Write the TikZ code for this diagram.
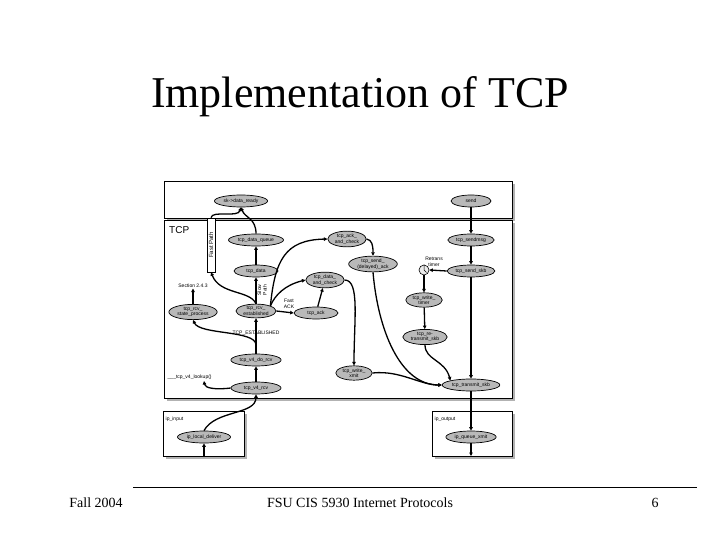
\documentclass[tikz,border=0pt]{standalone}
\usepackage{fontspec}
\setmainfont{Liberation Serif}
\newfontfamily\nodefont{Liberation Sans}
\usetikzlibrary{arrows.meta,shapes.geometric}
\begin{document}
\begin{tikzpicture}[x=1pt,y=-1pt,
  fn/.style={ellipse,draw=black,fill=gray!55,line width=0.7pt,inner xsep=1.5pt,inner ysep=0.5pt,minimum height=12pt,font=\nodefont\fontsize{5}{5.5}\selectfont,align=center},
  lbl/.style={font=\nodefont\fontsize{5}{5.5}\selectfont,inner sep=0.5pt,align=center},
  ar/.style={line width=1.3pt,-{Triangle[length=3.5pt,width=3.5pt]}},
  frame/.style={draw=black,line width=0.6pt,fill=white}]
\useasboundingbox (0,0) rectangle (720,540);
% title
\node (title) at (360,97) {\fontsize{44}{48}\selectfont Implementation of TCP};
% boxes
\foreach \a/\b/\c/\d in {164/181/512/218, 164/220/512/398, 163/411/244/456, 432/411/512/456}{
  \fill[gray!60] (\a+3,\b+3) rectangle (\c+3,\d+3);
  \draw[frame] (\a,\b) rectangle (\c,\d);}
\node[anchor=north west,font=\nodefont\fontsize{10}{11}\selectfont,inner sep=1pt] (tcplbl) at (168,225) {TCP};
\node[lbl,anchor=west] (ipin) at (165,419) {ip\_input};
\node[lbl,anchor=west] (ipout) at (434,419) {ip\_output};
% fast path
\node[draw,fill=white,line width=0.6pt,rotate=90,minimum width=54pt,minimum height=8pt,inner sep=0.5pt,font=\nodefont\fontsize{6}{6}\selectfont] (fast) at (211,245) {Fast Path};
% nodes
\node[fn] (ready) at (241,201) {sk->data\_ready};
\node[fn,minimum width=40pt] (send) at (471,201) {send};
\node[fn] (dq) at (256,240) {tcp\_data\_queue};
\node[fn] (ackc) at (347,239) {tcp\_ack\_\\and\_check};
\node[fn] (sendmsg) at (471,240) {tcp\_sendmsg};
\node[fn] (dack) at (373,264) {tcp\_send\_\\(delayed)\_ack};
\node[fn,minimum width=44pt] (data) at (256,271) {tcp\_data};
\node[fn] (datac) at (325,280) {tcp\_data\_\\and\_check};
\node[circle,draw,fill=gray!15,line width=0.6pt,minimum size=10pt,inner sep=0pt] (timer) at (424,270) {};
\draw[line width=0.5pt] (timer.center) -- (timer.north) (timer.center) -- ++(2.5,2.5);
\node[lbl] (rt) at (434,262) {Retrans\\timer};
\node[fn] (sskb) at (471,271) {tcp\_send\_skb};
\node[lbl] (sec) at (193,286) {Section 2.4.3};
\node[fn] (sp) at (193,312) {tcp\_rcv\_\\state\_process};
\node[fn] (est) at (256,311) {tcp\_rcv\_\\established};
\node[lbl,rotate=90] (slow) at (262,290) {Slow\\Path};
\node[lbl] (fack) at (289,304) {Fast\\ACK};
\node[fn,minimum width=44pt] (ack) at (316,313) {tcp\_ack};
\node[fn] (wt) at (424,300) {tcp\_write\_\\timer};
\node[lbl] (estab) at (256,333) {TCP\_ESTABLISHED};
\node[fn] (retr) at (425,337) {tcp\_re-\\transmit\_skb};
\node[fn] (dorcv) at (256,360) {tcp\_v4\_do\_rcv};
\node[fn] (wx) at (354,373) {tcp\_write\_\\xmit};
\node[lbl,anchor=west] (lookup) at (167,377) {\_\_\_tcp\_v4\_lookup()};
\node[fn,minimum width=50pt] (v4rcv) at (256,388) {tcp\_v4\_rcv};
\node[fn] (tskb) at (471,385) {tcp\_transmit\_skb};
\node[fn] (ld) at (204,437) {ip\_local\_deliver};
\node[fn] (qx) at (471,437) {ip\_queue\_xmit};
\coordinate (inbot) at (204,456);
\coordinate (outbot) at (471,456);
\coordinate (lk) at (204,381);
% edges
\draw[ar] (send) -- (sendmsg);
\draw[ar] (sendmsg) -- (sskb);
\draw[ar] (sskb) -- (tskb);
\draw[ar] (tskb) -- (qx);
\draw[ar] (qx) -- (outbot);
\draw[ar] (inbot) -- (ld);
\draw[ar] (ld.north) .. controls (215,410) and (256,415) .. (v4rcv.south);
\draw[ar] (v4rcv) -- (dorcv);
\draw[ar] (v4rcv.west) .. controls (215,390) and (205,388) .. (lk);
\draw[ar] (dorcv) -- (est);
\draw[ar] (256,345) .. controls (256,330) and (200,335) .. (sp.south);
\draw[ar] (sp) -- (sec);
\draw[ar] (est) -- (data);
\draw[ar] (data) -- (dq);
\draw[ar] (dq.north) .. controls (256,218) and (245,218) .. (ready.south);
\draw[ar] (fast.east) .. controls (212,210) and (238,218) .. (ready.south);
\draw[ar] (est.north) .. controls (250,290) and (220,295) .. (fast.west);
\draw[ar] (est.north east) .. controls (275,260) and (285,240) .. (ackc.west);
\draw[ar] (est.north east) .. controls (275,295) and (285,285) .. (datac.west);
\draw[ar] (est.east) -- (ack.west);
\draw[ar] (ack) -- (datac);
\draw[ar] (ackc.east) .. controls (372,240) and (373,245) .. (dack.north);
\draw[ar] (datac.east) .. controls (360,280) and (354,320) .. (wx.north);
\draw[ar] (dack.south) .. controls (378,330) and (400,385) .. (tskb.west);
\draw[ar] (sskb.west) -- (timer.east);
\draw[ar] (timer) -- (wt);
\draw[ar] (wt) -- (retr);
\draw[ar] (retr.south) .. controls (425,360) and (445,360) .. (tskb.north west);
\draw[ar] (wx.east) .. controls (400,370) and (420,385) .. (tskb.west);
% footer
\draw[line width=0.6pt] (133,487) -- (697,487);
\node[font=\fontsize{14}{16}\selectfont] (f1) at (96,503) {Fall 2004};
\node[font=\fontsize{14}{16}\selectfont] (f2) at (360,503) {FSU CIS 5930 Internet Protocols};
\node[font=\fontsize{14}{16}\selectfont] (f3) at (655,503) {6};
\end{tikzpicture}
\end{document}
